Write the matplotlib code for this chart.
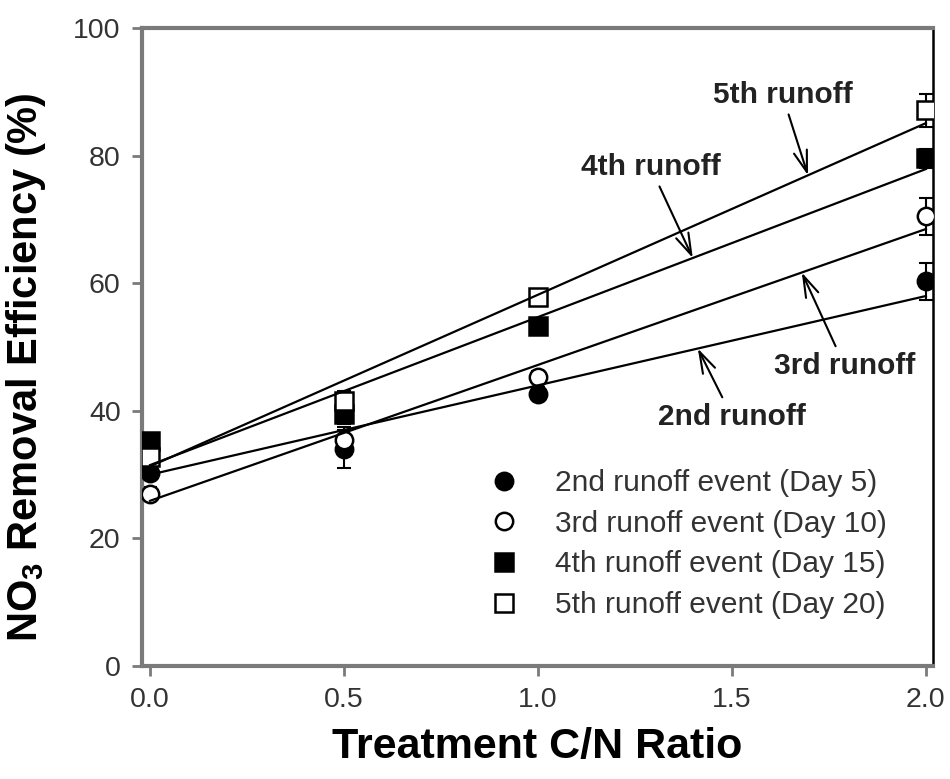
import numpy as np
import matplotlib.pyplot as plt

plt.rcParams['font.family'] = ['Liberation Sans', 'DejaVu Sans']
plt.rcParams['mathtext.fontset'] = 'custom'
plt.rcParams['mathtext.rm'] = 'Liberation Sans'
plt.rcParams['mathtext.bf'] = 'Liberation Sans:bold'

# ------------------------
# DATA
# ------------------------
cn_ratio = [0.0, 0.5, 1.0, 2.0]

eff_2nd = [30.3, 34.0, 42.7, 60.3]
eff_3rd = [27.0, 35.5, 45.3, 70.5]
eff_4th = [35.2, 39.5, 53.3, 79.6]
eff_5th = [32.8, 41.6, 57.8, 87.1]

err_2nd = [1.0, 3.0, 1.0, 2.9]
err_3rd = [1.0, 2.0, 1.0, 2.9]
err_4th = [1.0, 1.5, 1.0, 1.5]
err_5th = [1.5, 1.5, 1.0, 2.6]

legend_labels = ["2nd runoff event (Day 5)", "3rd runoff event (Day 10)",
                 "4th runoff event (Day 15)", "5th runoff event (Day 20)"]
line_labels = ["2nd runoff", "3rd runoff", "4th runoff", "5th runoff"]

# linear fits: intercept, slope
fit_intercept = [30.0, 25.9, 31.5, 31.3]
fit_slope = [14.0, 21.3, 23.2, 26.9]

# ------------------------
# STYLE / LAYOUT
# ------------------------
markers = ["o", "o", "s", "s"]
faces = ["black", "white", "black", "white"]
note_text_xy = [(1.50, 39.1), (1.79, 47.1), (1.29, 78.2), (1.63, 89.5)]
note_tip_x = [1.412, 1.680, 1.399, 1.696]

effs = [eff_2nd, eff_3rd, eff_4th, eff_5th]
errs = [err_2nd, err_3rd, err_4th, err_5th]

fig = plt.figure(figsize=(9.5, 7.79), dpi=100)
ax = fig.add_axes([0.149, 0.145, 0.833, 0.819])

x_fit = np.array([0.0, 2.0])
for i in range(4):
    ax.errorbar(cn_ratio, effs[i], yerr=errs[i], fmt="none", ecolor="black",
                elinewidth=1.5, capsize=5, capthick=1.5, zorder=2)
    ax.plot(cn_ratio, effs[i], linestyle="none", marker=markers[i], markersize=12.5,
            markerfacecolor=faces[i], markeredgecolor="black", markeredgewidth=1.8,
            label=legend_labels[i], zorder=3)
    ax.plot(x_fit, fit_intercept[i] + fit_slope[i] * x_fit, color="black", lw=1.6, zorder=4)

    tip_x = note_tip_x[i]
    tip_y = fit_intercept[i] + fit_slope[i] * tip_x
    ax.annotate(line_labels[i], xy=(tip_x, tip_y), xytext=note_text_xy[i],
                ha="center", va="center", fontsize=21.5, fontweight="bold", color="#222222",
                arrowprops=dict(arrowstyle="->,head_length=0.7,head_width=0.22",
                                mutation_scale=22, color="black", lw=1.5,
                                shrinkA=2, shrinkB=0))

ax.set_xlim(-0.022, 2.018)
ax.set_ylim(0, 100)
ax.set_xticks([0.0, 0.5, 1.0, 1.5, 2.0])
ax.set_xticklabels(["0.0", "0.5", "1.0", "1.5", "2.0"])
ax.set_yticks([0, 20, 40, 60, 80, 100])

for side in ["left", "top", "bottom"]:
    ax.spines[side].set_color("#7a7a7a")
    ax.spines[side].set_linewidth(3)
ax.spines["right"].set_color("black")
ax.spines["right"].set_linewidth(1.8)

ax.tick_params(direction="out", length=7, width=2, color="#7a7a7a",
               labelsize=20.5, labelcolor="#333333", pad=8)

ax.set_xlabel("Treatment C/N Ratio", fontsize=31, fontweight="bold", labelpad=10)
ax.set_ylabel(r"NO$_{\mathbf{3}}$ Removal Efficiency (%)", fontsize=30,
              fontweight="bold")
ax.yaxis.set_label_coords(-0.118, 0.469)

leg = ax.legend(loc="upper left", bbox_to_anchor=(0.405, 0.327), frameon=False,
                fontsize=21.5, handlelength=2.0, handletextpad=0.72,
                labelspacing=0.42, borderaxespad=0)
for t in leg.get_texts():
    t.set_color("#333333")

fig.savefig("out.png", dpi=100)
